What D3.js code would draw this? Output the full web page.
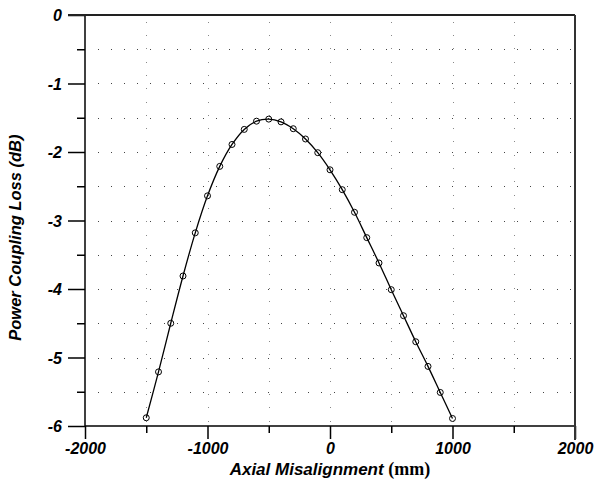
<!DOCTYPE html>
<html>
<head>
<meta charset="utf-8">
<script src="https://cdn.jsdelivr.net/npm/d3@7"></script>
<style>
  body { margin: 0; background: #fff; }
  svg { display: block; }
  .tick text { font-family: Arial, "Liberation Sans", sans-serif; font-weight: bold; font-style: italic; fill: #000; }
</style>
</head>
<body>
<svg id="chart" width="597" height="485"></svg>
<script>
const misalignment = [-1500, -1400, -1300, -1200, -1100, -1000, -900, -800, -700, -600,
  -500, -400, -300, -200, -100, 0, 100, 200, 300, 400, 500, 600, 700, 800, 900, 1000];
const couplingLoss = [-5.88, -5.21, -4.50, -3.81, -3.18, -2.64, -2.21, -1.89, -1.67, -1.55,
  -1.52, -1.56, -1.66, -1.81, -2.01, -2.26, -2.55, -2.88, -3.25, -3.62, -4.01, -4.39, -4.77, -5.13, -5.51, -5.89];

const xMajor = [-2000, -1000, 0, 1000, 2000];
const xMinor = [-1500, -500, 500, 1500];
const yMajor = [0, -1, -2, -3, -4, -5, -6];
const yMinor = [-0.5, -1.5, -2.5, -3.5, -4.5, -5.5];

const svg = d3.select("#chart");
const margin = { top: 15, right: 22, bottom: 59, left: 85 };
const width = +svg.attr("width");
const height = +svg.attr("height");

const x = d3.scaleLinear().domain([-2000, 2000]).range([margin.left, width - margin.right]);
const y = d3.scaleLinear().domain([-6, 0]).range([height - margin.bottom, margin.top]);

const data = misalignment.map((m, i) => ({ x: m, y: couplingLoss[i] }));

// dotted grid
const grid = svg.append("g").attr("shape-rendering", "crispEdges");
grid.selectAll(".hgrid")
  .data(yMinor.concat(yMajor.slice(1, -1)))
  .enter().append("line")
  .attr("x1", x(-2000) + 13).attr("x2", x(2000))
  .attr("y1", (d) => Math.round(y(d)) + 0.5).attr("y2", (d) => Math.round(y(d)) + 0.5)
  .attr("stroke", "#444").attr("stroke-dasharray", "1,12.1");
grid.selectAll(".vgrid")
  .data(xMinor.concat(xMajor.slice(1, -1)))
  .enter().append("line")
  .attr("y1", y(0) + 6.7).attr("y2", y(-6))
  .attr("x1", (d) => Math.round(x(d)) + 0.5).attr("x2", (d) => Math.round(x(d)) + 0.5)
  .attr("stroke", "#888").attr("stroke-dasharray", "1,12.3");

// axes: long major ticks, short minor ticks
const fmt = (d) => String(d);
const yAxisMajor = svg.append("g")
  .attr("transform", `translate(${x(-2000)},0)`)
  .call(d3.axisLeft(y).tickValues(yMajor).tickSize(17).tickPadding(6).tickFormat(fmt));
const yAxisMinor = svg.append("g")
  .attr("transform", `translate(${x(-2000)},0)`)
  .call(d3.axisLeft(y).tickValues(yMinor).tickSize(8).tickFormat(""));
const xAxisMajor = svg.append("g")
  .attr("transform", `translate(0,${y(-6)})`)
  .call(d3.axisBottom(x).tickValues(xMajor).tickSize(13).tickPadding(4).tickFormat(fmt));
const xAxisMinor = svg.append("g")
  .attr("transform", `translate(0,${y(-6)})`)
  .call(d3.axisBottom(x).tickValues(xMinor).tickSize(7).tickFormat(""));

[yAxisMajor, yAxisMinor, xAxisMajor, xAxisMinor].forEach((g) => {
  g.select(".domain").remove();
  g.selectAll(".tick line").attr("stroke", "#000").attr("stroke-width", 1.5);
});
yAxisMajor.selectAll(".tick text").attr("font-size", 16).attr("dy", "0.35em");
xAxisMajor.selectAll(".tick text").attr("font-size", 16).attr("dy", "0.71em");

// frame
const frame = svg.append("g").attr("stroke", "#000").attr("stroke-width", 1.5).attr("fill", "none");
frame.append("line").attr("x1", x(-2000)).attr("x2", x(-2000)).attr("y1", y(0)).attr("y2", y(-6));
frame.append("line").attr("x1", x(-2000) - 17).attr("x2", x(2000)).attr("y1", y(0)).attr("y2", y(0)).attr("stroke", "#222").attr("stroke-width", 2);
frame.append("line").attr("x1", x(-2000)).attr("x2", x(2000)).attr("y1", y(-6)).attr("y2", y(-6));
frame.append("line").attr("x1", x(2000)).attr("x2", x(2000)).attr("y1", y(0)).attr("y2", y(-6) + 14).attr("stroke", "#333").attr("stroke-width", 2);

// curve + markers
const line = d3.line().x((d) => x(d.x)).y((d) => y(d.y)).curve(d3.curveCatmullRom);
svg.append("path")
  .datum(data)
  .attr("d", line)
  .attr("fill", "none")
  .attr("stroke", "#000")
  .attr("stroke-width", 1.3);

svg.selectAll(".pt")
  .data(data)
  .enter().append("circle")
  .attr("class", "pt")
  .attr("cx", (d) => x(d.x))
  .attr("cy", (d) => y(d.y))
  .attr("r", 3)
  .attr("fill", "none")
  .attr("stroke", "#000")
  .attr("stroke-width", 1);

// axis titles
const xTitle = svg.append("text")
  .attr("x", x(0))
  .attr("y", 475)
  .attr("text-anchor", "middle");
xTitle.append("tspan")
  .attr("font-family", "Arial, 'Liberation Sans', sans-serif")
  .attr("font-weight", "bold").attr("font-style", "italic")
  .attr("font-size", 17)
  .text("Axial Misalignment ");
xTitle.append("tspan")
  .attr("font-family", "'Times New Roman', 'Liberation Serif', serif")
  .attr("font-weight", "bold")
  .attr("font-size", 18)
  .text("(mm)");

svg.append("text")
  .attr("transform", `translate(21,${y(-3.25)}) rotate(-90)`)
  .attr("text-anchor", "middle")
  .attr("font-family", "Arial, 'Liberation Sans', sans-serif")
  .attr("font-weight", "bold").attr("font-style", "italic")
  .attr("font-size", 16.5)
  .text("Power Coupling Loss (dB)");
</script>
</body>
</html>
